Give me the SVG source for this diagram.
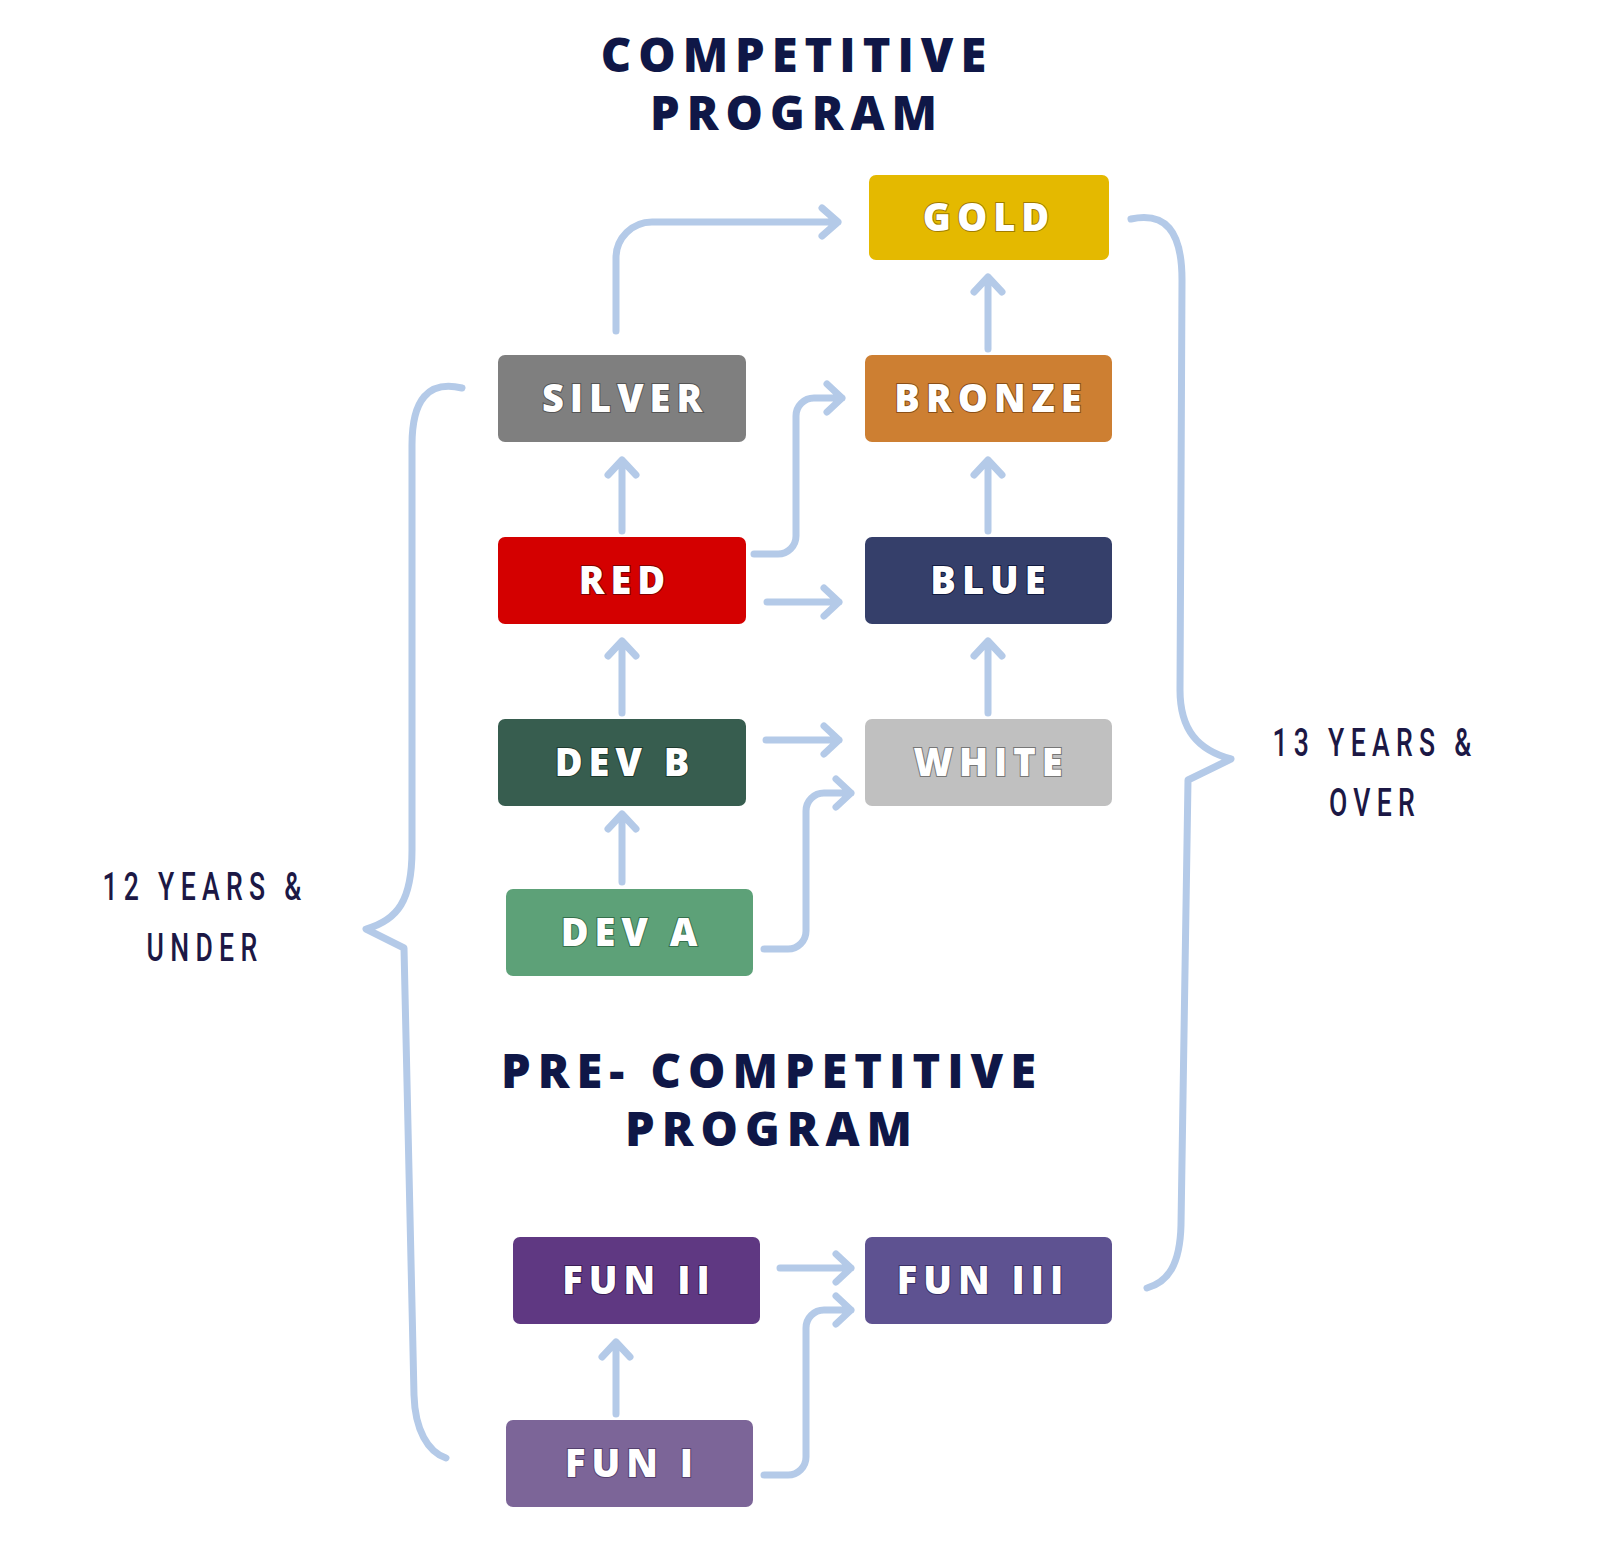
<svg xmlns="http://www.w3.org/2000/svg" width="1600" height="1545" viewBox="0 0 1600 1545">
<style>
.t{font-family:"Open Sans","DejaVu Sans",sans-serif;font-weight:800;fill:#0f1747;text-anchor:middle;letter-spacing:7px;font-size:47px}
.b{font-family:"Open Sans","DejaVu Sans",sans-serif;font-weight:800;fill:#fff;text-anchor:middle;letter-spacing:6px;font-size:38px;paint-order:stroke;stroke-width:2px}
.s{font-family:"Roboto","DejaVu Sans",sans-serif;font-weight:500;fill:#1c1845;text-anchor:middle;letter-spacing:9px;font-size:38px}
.c path{fill:none;stroke:#b4cae8;stroke-width:7;stroke-linecap:round;stroke-linejoin:round}
</style>
<rect width="1600" height="1545" fill="#fff"/>
<g id="title-top"><text class="t" x="797" y="72">COMPETITIVE</text><text class="t" x="797" y="130">PROGRAM</text></g>
<g id="title-pre"><text class="t" x="772" y="1088">PRE- COMPETITIVE</text><text class="t" x="772" y="1146">PROGRAM</text></g>
<g id="label-12"><text class="s" transform="translate(205 900) scale(0.7 1)" x="0" y="0">12 YEARS &amp;</text><text class="s" transform="translate(205 961) scale(0.7 1)">UNDER</text></g>
<g id="label-13"><text class="s" transform="translate(1375 756) scale(0.7 1)">13 YEARS &amp;</text><text class="s" transform="translate(1375 816) scale(0.7 1)">OVER</text></g>
<g class="c" id="connectors">
<path d="M616,331 V258 A36,36 0 0 1 652,222 H838 M822,208 L838,222 L822,236"/>
<path d="M988,349 V277 M974,292 L988,277 L1002,292"/>
<path d="M622,531 V460 M608,475 L622,460 L636,475"/>
<path d="M988,531 V460 M974,475 L988,460 L1002,475"/>
<path d="M754,554 H778 A18,18 0 0 0 796,536 V416 A18,18 0 0 1 814,398 H842 M827,384 L842,398 L827,412"/>
<path d="M767,602 H839 M824,588 L839,602 L824,616"/>
<path d="M622,713 V641 M608,656 L622,641 L636,656"/>
<path d="M988,713 V641 M974,656 L988,641 L1002,656"/>
<path d="M766,740 H839 M824,726 L839,740 L824,754"/>
<path d="M764,949 H788 A18,18 0 0 0 806,931 V811 A18,18 0 0 1 824,793 H851 M836,779 L851,793 L836,807"/>
<path d="M622,882 V814 M608,829 L622,814 L636,829"/>
<path d="M780,1268 H851 M836,1254 L851,1268 L836,1282"/>
<path d="M616,1414 V1342 M602,1357 L616,1342 L630,1357"/>
<path d="M764,1475 H788 A18,18 0 0 0 806,1457 V1328 A18,18 0 0 1 824,1310 H851 M836,1296 L851,1310 L836,1324"/>
<path d="M462,388 C428,380 412,400 412,445 L412,850 C412,900 398,920 366,929 L404,948 L414,1395 C415,1430 428,1452 446,1458"/>
<path d="M1131,219 C1165,212 1182,230 1182,280 L1180,690 C1180,730 1198,750 1231,759 L1188,780 L1181,1225 C1180,1265 1168,1282 1147,1288"/>
</g>
<g id="gold"><rect x="869" y="175" width="240" height="85" rx="7" fill="#e4b900"/><text class="b" x="989" y="231" stroke="#a07c00">GOLD</text></g>
<g id="silver"><rect x="498" y="355" width="248" height="87" rx="7" fill="#7f7f7f"/><text class="b" x="625" y="412" stroke="#555">SILVER</text></g>
<g id="bronze"><rect x="865" y="355" width="247" height="87" rx="7" fill="#cd7f32"/><text class="b" x="991" y="412" stroke="#8a4f18">BRONZE</text></g>
<g id="red"><rect x="498" y="537" width="248" height="87" rx="7" fill="#d40000"/><text class="b" x="625" y="594" stroke="#800000">RED</text></g>
<g id="blue"><rect x="865" y="537" width="247" height="87" rx="7" fill="#353f6a"/><text class="b" x="991" y="594" stroke="#101a40">BLUE</text></g>
<g id="devb"><rect x="498" y="719" width="248" height="87" rx="7" fill="#375d4f"/><text class="b" x="625" y="776" stroke="#1d3a2e">DEV B</text></g>
<g id="white"><rect x="865" y="719" width="247" height="87" rx="7" fill="#c0c0c0"/><text class="b" x="991" y="776" stroke="#777">WHITE</text></g>
<g id="deva"><rect x="506" y="889" width="247" height="87" rx="7" fill="#5da178"/><text class="b" x="632" y="946" stroke="#35704c">DEV A</text></g>
<g id="fun2"><rect x="513" y="1237" width="247" height="87" rx="7" fill="#5f3882"/><text class="b" x="639" y="1294" stroke="#3a1d55">FUN II</text></g>
<g id="fun3"><rect x="865" y="1237" width="247" height="87" rx="7" fill="#5e5291"/><text class="b" x="983" y="1294" stroke="#3a3066">FUN III</text></g>
<g id="fun1"><rect x="506" y="1420" width="247" height="87" rx="7" fill="#7c6598"/><text class="b" x="632" y="1477" stroke="#54406e">FUN I</text></g>
</svg>
